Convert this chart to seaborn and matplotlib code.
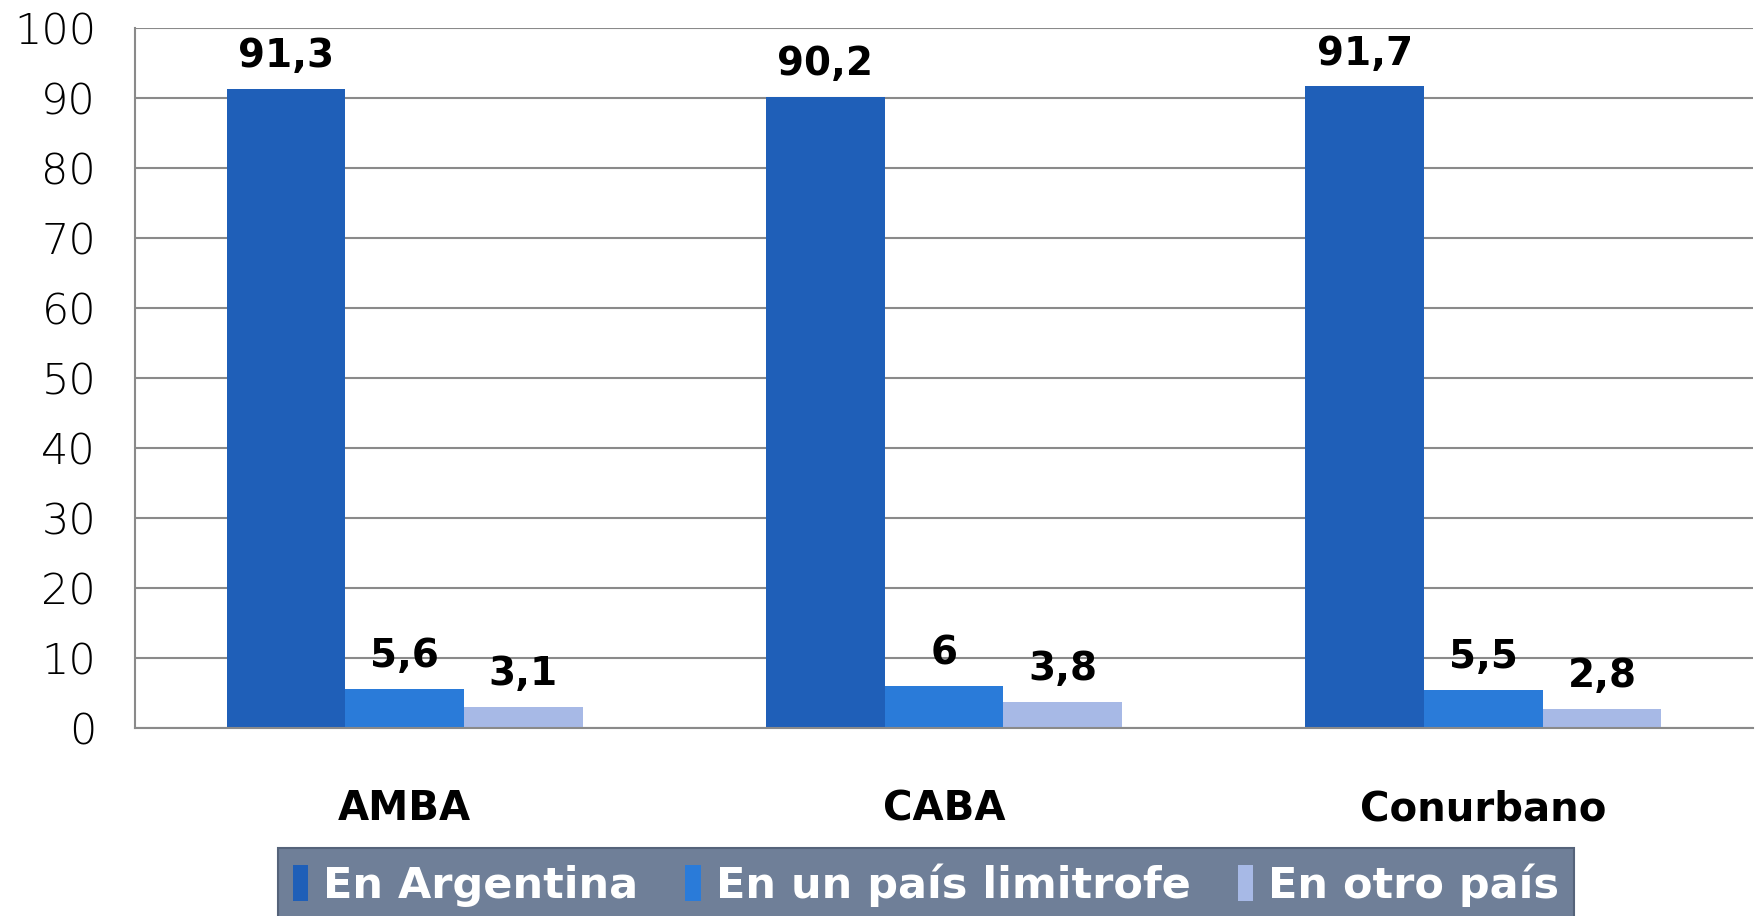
import matplotlib
matplotlib.use("Agg")
import matplotlib.pyplot as plt
import seaborn as sns
import pandas as pd
from matplotlib.patches import Patch

categories = ["AMBA", "CABA", "Conurbano"]
series_names = ["En Argentina", "En un país limitrofe", "En otro país"]
en_argentina = [91.3, 90.2, 91.7]
en_limitrofe = [5.6, 6.0, 5.5]
en_otro = [3.1, 3.8, 2.8]
colors = ["#1f5fb8", "#2a7bd9", "#a7b9e6"]

rows = []
for s, vals in zip(series_names, [en_argentina, en_limitrofe, en_otro]):
    for c, v in zip(categories, vals):
        rows.append({"cat": c, "serie": s, "val": v})
df = pd.DataFrame(rows)

sns.set_style("white")
plt.rcParams["font.family"] = ["DejaVu Sans"]

fig = plt.figure(figsize=(17.57, 9.16), dpi=100)
ax = fig.add_axes([0.0768, 0.205, 0.921, 0.764])
sns.barplot(data=df, x="cat", y="val", hue="serie", palette=colors,
            width=0.66, ax=ax, legend=False, saturation=1, linewidth=0, edgecolor="none")

ax.set_ylim(0, 100)
ax.set_xlim(-0.5, 2.5)
ax.set_yticks(range(0, 101, 10))
ax.yaxis.grid(True, color="#8a8a8a", linewidth=1.5)
ax.set_axisbelow(True)
for side in ["top", "right"]:
    ax.spines[side].set_visible(False)
for side in ["left", "bottom"]:
    ax.spines[side].set_color("#8a8a8a")
    ax.spines[side].set_linewidth(1.5)

ax.tick_params(axis="y", length=12, color="#8a8a8a", width=1.5, labelsize=31,
               pad=16, labelcolor="black")
ax.set_yticklabels([str(v) for v in range(0, 101, 10)], fontweight="light")
ax.set_xticks([-0.5, 0.5, 1.5, 2.5], minor=True)
ax.tick_params(axis="x", which="minor", length=10, color="#8a8a8a", width=1.5)
ax.tick_params(axis="x", which="major", length=0, labelsize=29, pad=44, labelcolor="black")
for lbl in ax.get_xticklabels():
    lbl.set_fontweight("bold")
ax.set_xlabel("")
ax.set_ylabel("")

for cont in ax.containers:
    labels = [f"{b.get_height():g}".replace(".", ",") for b in cont]
    ax.bar_label(cont, labels=labels, padding=10, fontsize=28, fontweight="bold", color="black")

handles = [Patch(facecolor=c, edgecolor="none") for c in colors]
leg = fig.legend(handles, series_names, loc="lower center", bbox_to_anchor=(0.527, -0.03),
                 ncol=3, frameon=True, handlelength=0.35, handleheight=0.9,
                 handletextpad=0.35, columnspacing=1.1, borderpad=0.35, fancybox=False,
                 prop={"weight": "bold", "size": 31})
leg.get_frame().set_facecolor("#6f7f98")
leg.get_frame().set_edgecolor("#55637a")
leg.get_frame().set_linewidth(1.5)
leg.get_frame().set_alpha(1)
for t in leg.get_texts():
    t.set_color("white")

fig.savefig("out.png", dpi=100)
